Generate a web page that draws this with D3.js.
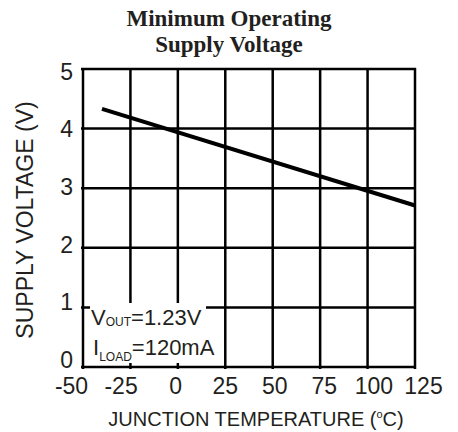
<!DOCTYPE html>
<html>
<head>
<meta charset="utf-8">
<script src="https://d3js.org/d3.v7.min.js"></script>
<style>
body { margin: 0; background: #fff; }
svg text { fill: #231f20; }
</style>
</head>
<body>
<svg id="chart" width="458" height="432"></svg>
<script>
// data
var tempTicks = [-50, -25, 0, 25, 50, 75, 100, 125];
var voltTicks = [0, 1, 2, 3, 4, 5];
var junctionTemp = [-40, 125];
var minSupplyVolt = [4.33, 2.71];
var titleLines = ["Minimum Operating", "Supply Voltage"];

var svg = d3.select("#chart");
var plotLeft = 83, plotRight = 415, plotTop = 69, plotBottom = 367;

var x = d3.scaleLinear().domain([-50, 125]).range([plotLeft, plotRight]);
var y = d3.scaleLinear().domain([0, 5]).range([plotBottom, plotTop]);
// the printed tick labels are spread a little wider than the grid
var xLab = d3.scaleLinear().domain([-50, 125]).range([76, 423]);
var yLab = d3.scaleLinear().domain([0, 5]).range([359, 71]);

// title
svg.selectAll(".title")
    .data(titleLines)
    .enter().append("text")
    .attr("class", "title")
    .attr("x", 229)
    .attr("y", function (d, i) { return 26 + i * 26; })
    .attr("text-anchor", "middle")
    .style("font-family", "'Liberation Serif', serif")
    .style("font-weight", "bold")
    .style("font-size", "23px")
    .text(function (d) { return d; });

// grid
var grid = svg.append("g").attr("stroke", "#000").attr("stroke-width", 2.5);
grid.selectAll(".vg")
    .data(tempTicks)
    .enter().append("line")
    .attr("x1", function (d) { return x(d); })
    .attr("x2", function (d) { return x(d); })
    .attr("y1", y(0) + 2)
    .attr("y2", y(5) - 1);
grid.selectAll(".hg")
    .data(voltTicks)
    .enter().append("line")
    .attr("y1", function (d) { return y(d); })
    .attr("y2", function (d) { return y(d); })
    .attr("x1", x(-50) - 2)
    .attr("x2", x(125) + 1);

// tick labels through d3 axes
var xAxis = svg.append("g")
    .attr("transform", "translate(0," + plotBottom + ")")
    .call(d3.axisBottom(xLab).tickValues(tempTicks).tickSize(0).tickPadding(27)
        .tickFormat(function (d) { return d < 0 ? "-" + Math.abs(d) : d; }));
xAxis.select(".domain").remove();
xAxis.selectAll("text")
    .attr("dx", function (d) { return d < 0 ? -5 : 0; })
    .attr("dy", 0)
    .style("font-family", "'Liberation Sans', Arial, sans-serif")
    .style("font-size", "23px")
    .attr("fill", "#231f20");

var yAxis = svg.append("g")
    .attr("transform", "translate(" + plotLeft + ",0)")
    .call(d3.axisLeft(yLab).tickValues(voltTicks).tickSize(0).tickPadding(10)
        .tickFormat(d3.format("d")));
yAxis.select(".domain").remove();
yAxis.selectAll("text")
    .attr("dy", "0.36em")
    .style("font-family", "'Liberation Sans', Arial, sans-serif")
    .style("font-size", "23px")
    .attr("fill", "#231f20");

// axis titles
svg.append("text")
    .attr("transform", "translate(33,220) rotate(-90)")
    .attr("text-anchor", "middle")
    .style("font-family", "'Liberation Sans', Arial, sans-serif")
    .style("font-size", "23px")
    .text("SUPPLY VOLTAGE (V)");

var xt = svg.append("text")
    .attr("x", 256)
    .attr("y", 426)
    .attr("text-anchor", "middle")
    .style("font-family", "'Liberation Sans', Arial, sans-serif")
    .style("font-size", "20px");
xt.append("tspan").text("JUNCTION TEMPERATURE (");
xt.append("tspan").attr("dy", -8).style("font-size", "11px").text("o");
xt.append("tspan").attr("dy", 8).text("C)");

// curve
var pts = junctionTemp.map(function (t, i) { return [t, minSupplyVolt[i]]; });
svg.append("path")
    .datum(pts)
    .attr("fill", "none")
    .attr("stroke", "#000")
    .attr("stroke-width", 4)
    .attr("d", d3.line()
        .x(function (d) { return x(d[0]); })
        .y(function (d) { return y(d[1]); }));

// conditions note (white boxes hide the grid behind the text)
svg.append("rect").attr("x", 90).attr("y", 303).attr("width", 116).attr("height", 28).attr("fill", "#fff");
svg.append("rect").attr("x", 86).attr("y", 331).attr("width", 133).attr("height", 32).attr("fill", "#fff");

var n1 = svg.append("text")
    .attr("x", 91).attr("y", 325)
    .style("font-family", "'Liberation Sans', Arial, sans-serif")
    .style("font-size", "22px");
n1.append("tspan").text("V");
n1.append("tspan").attr("dy", 1).style("font-size", "12px").text("OUT");
n1.append("tspan").attr("dy", -1).text("=1.23V");

var n2 = svg.append("text")
    .attr("x", 93).attr("y", 355)
    .style("font-family", "'Liberation Sans', Arial, sans-serif")
    .style("font-size", "22px");
n2.append("tspan").text("I");
n2.append("tspan").attr("dy", 6).style("font-size", "12px").text("LOAD");
n2.append("tspan").attr("dy", -6).text("=120mA");
</script>
</body>
</html>
